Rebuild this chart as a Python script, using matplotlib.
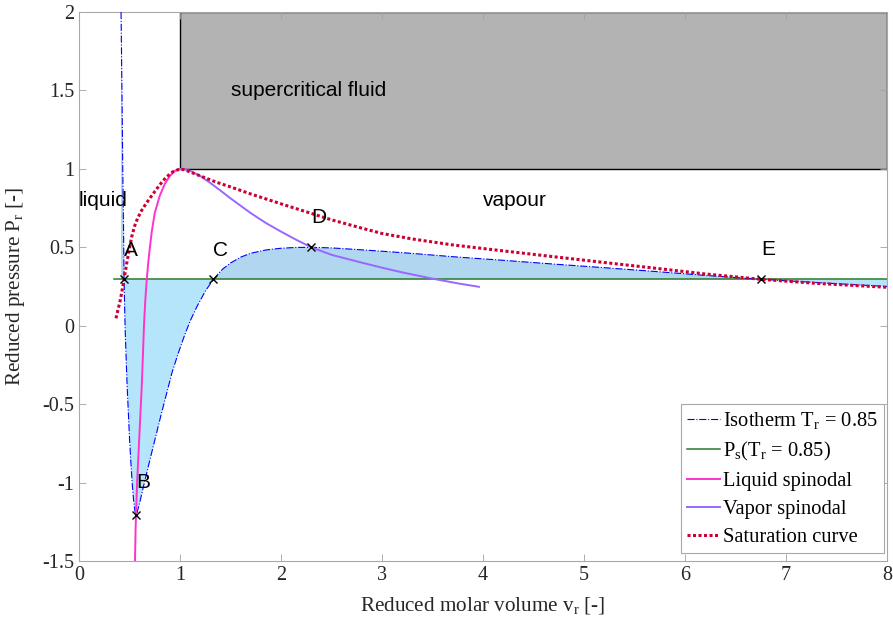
import matplotlib
matplotlib.use('Agg')
import matplotlib.pyplot as plt
from matplotlib.patches import Rectangle

# values
# isotherm Tr = 0.85 (reduced molar volume, reduced pressure)
iso_v = [0.416, 0.425, 0.433, 0.441, 0.446, 0.452, 0.458, 0.466, 0.476, 0.488,
         0.500, 0.514, 0.528, 0.540, 0.552, 0.564, 0.575, 0.600, 0.640, 0.700,
         0.750, 0.800, 0.860, 0.920, 0.980, 1.040, 1.100, 1.170, 1.250, 1.330,
         1.420, 1.500, 1.600, 1.700, 1.850, 2.000, 2.150, 2.300, 2.500, 2.700,
         3.000, 3.300, 3.700, 4.200, 4.700, 5.200, 5.700, 6.200, 6.750, 7.300,
         8.000]
iso_p = [2.00, 1.50, 1.00, 0.60, 0.296, 0.10, -0.05, -0.20, -0.38, -0.55,
         -0.72, -0.88, -1.02, -1.11, -1.175, -1.21, -1.19, -1.13, -1.02, -0.86,
         -0.73, -0.60, -0.45, -0.30, -0.18, -0.07, 0.03, 0.125, 0.22, 0.296,
         0.36, 0.40, 0.437, 0.462, 0.483, 0.494, 0.499, 0.500, 0.496, 0.488,
         0.475, 0.461, 0.440, 0.417, 0.393, 0.370, 0.346, 0.321, 0.296, 0.275,
         0.250]

# saturation pressure at Tr = 0.85
ps_v = [0.35, 8.0]
ps_p = [0.296, 0.296]

# liquid spinodal
liq_v = [0.554, 0.560, 0.564, 0.575, 0.590, 0.605, 0.620, 0.632, 0.643, 0.655,
         0.670, 0.685, 0.700, 0.720, 0.750, 0.800, 0.850, 0.900, 0.950, 1.000]
liq_p = [-1.50, -1.30, -1.21, -1.00, -0.80, -0.60, -0.40, -0.20, 0.00, 0.15,
         0.29, 0.40, 0.49, 0.60, 0.72, 0.83, 0.905, 0.955, 0.988, 1.000]

# vapor spinodal
vap_v = [1.00, 1.05, 1.10, 1.20, 1.30, 1.40, 1.50, 1.70, 1.85, 2.00, 2.15,
         2.30, 2.50, 2.80, 3.00, 3.20, 3.50, 3.75, 3.96]
vap_p = [1.000, 0.997, 0.988, 0.955, 0.910, 0.862, 0.812, 0.718, 0.655, 0.600,
         0.548, 0.500, 0.452, 0.402, 0.370, 0.340, 0.300, 0.270, 0.248]

# saturation curve
sat_v = [0.366, 0.385, 0.406, 0.425, 0.446, 0.470, 0.495, 0.521, 0.550, 0.580,
         0.620, 0.660, 0.700, 0.769, 0.820, 0.868, 0.930, 1.000, 1.050, 1.100,
         1.200, 1.360, 1.500, 1.700, 2.000, 2.300, 2.500, 2.800, 3.000, 3.300,
         3.700, 4.200, 4.700, 5.200, 5.700, 6.200, 6.750, 7.300, 8.000]
sat_p = [0.047, 0.100, 0.155, 0.220, 0.296, 0.390, 0.480, 0.565, 0.635, 0.685,
         0.735, 0.775, 0.812, 0.872, 0.915, 0.950, 0.982, 1.000, 0.993, 0.980,
         0.955, 0.915, 0.885, 0.840, 0.777, 0.716, 0.675, 0.622, 0.588, 0.553,
         0.515, 0.477, 0.440, 0.403, 0.367, 0.330, 0.296, 0.270, 0.245]

# special points A..E
pt_names = ['A', 'B', 'C', 'D', 'E']
pt_v = [0.446, 0.564, 1.33, 2.30, 6.75]
pt_p = [0.296, -1.21, 0.296, 0.50, 0.296]

# supercritical region
sc_v = [1, 8]
sc_p = [1, 2]

plt.rcParams['font.family'] = 'Liberation Serif'
plt.rcParams['mathtext.fontset'] = 'custom'
plt.rcParams['mathtext.rm'] = 'Liberation Serif'
plt.rcParams['font.size'] = 14

fig = plt.figure(figsize=(8.93, 6.2), dpi=100)
ax = fig.add_axes([0.0885, 0.0952, 0.9048, 0.8854])

# supercritical box
ax.add_patch(Rectangle((sc_v[0], sc_p[0]), sc_v[1] - sc_v[0], sc_p[1] - sc_p[0],
                       facecolor='#b3b3b3', edgecolor='black', lw=1.0, zorder=1))

# shaded areas between isotherm and Ps
ps_level = [ps_p[0]] * len(iso_v)
ax.fill_between(iso_v, iso_p, ps_level, where=[p <= ps_p[0] for p in iso_p],
                interpolate=True, color='#b5e5fb', lw=0, zorder=2)
ax.fill_between(iso_v, iso_p, ps_level, where=[p >= ps_p[0] for p in iso_p],
                interpolate=True, color='#b0d6f0', lw=0, zorder=2)

ax.plot(iso_v, iso_p, color='#0000ff', ls='-.', lw=0.8, zorder=4,
        label=r'Isotherm $\mathregular{T_r}$ = 0.85')
ax.plot(ps_v, ps_p, color='#2a7a2a', lw=1.1, zorder=3,
        label=r'$\mathregular{P_s(T_r}$ = 0.85)')
ax.plot(liq_v, liq_p, color='#ff33cc', lw=1.4, zorder=4, label='Liquid spinodal')
ax.plot(vap_v, vap_p, color='#9966ff', lw=1.4, zorder=4, label='Vapor spinodal')
ax.plot(sat_v, sat_p, color='#cc0033', ls=(0, (1, 0.8)), lw=2.2, zorder=5,
        label='Saturation curve')

ax.plot(pt_v, pt_p, 'x', color='black', ms=6, mew=1.0, zorder=6)

sans = 'Liberation Sans'
lbl_off = [(0.0, 0.185), (0.006, 0.21), (0.0, 0.185), (0.0, 0.19), (0.0, 0.19)]
for n, v, p, o in zip(pt_names, pt_v, pt_p, lbl_off):
    ax.text(v + o[0], p + o[1], n, family=sans, fontsize=15, ha='left', va='center', zorder=7)
ax.text(0.0, 0.8, 'liquid', family=sans, fontsize=15, ha='left', va='center', zorder=7)
ax.text(4.0, 0.8, 'vapour', family=sans, fontsize=15, ha='left', va='center', zorder=7)
ax.text(1.5, 1.5, 'supercritical fluid', family=sans, fontsize=15, ha='left', va='center', zorder=7)

ax.set_xlim(0, 8)
ax.set_ylim(-1.5, 2)
ax.set_xticks(range(0, 9))
ax.set_yticks([-1.5, -1, -0.5, 0, 0.5, 1, 1.5, 2])
ax.set_yticklabels(['-1.5', '-1', '-0.5', '0', '0.5', '1', '1.5', '2'])
ax.tick_params(direction='in', top=True, right=True, length=5, width=0.6,
               color='#a0a0a0', labelcolor='#262626', labelsize=14.5)
for s in ax.spines.values():
    s.set_color('#a8a8a8')
    s.set_linewidth(0.8)

ax.set_xlabel(r'Reduced molar volume $\mathregular{v_r}$ [-]', fontsize=15.2, color='#262626', labelpad=7)
ax.set_ylabel(r'Reduced pressure $\mathregular{P_r}$ [-]', fontsize=15.2, color='#262626', labelpad=11)

leg = ax.legend(loc='lower right', bbox_to_anchor=(0.996, 0.014), borderaxespad=0,
                fontsize=14.8, handlelength=1.6, handletextpad=0.15, labelspacing=0.42,
                borderpad=0.3, fancybox=False, framealpha=1)
leg.get_frame().set_edgecolor('#a8a8a8')
leg.get_frame().set_linewidth(0.8)
leg.set_zorder(10)

fig.savefig('out.png', dpi=100)
